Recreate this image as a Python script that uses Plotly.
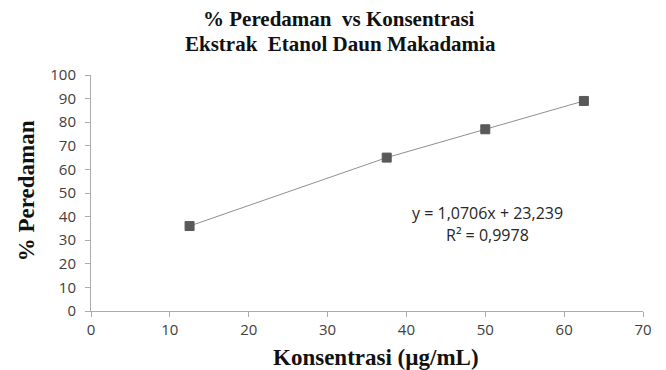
import plotly.graph_objects as go

konsentrasi = [12.5, 37.5, 50, 62.5]
peredaman = [36, 65, 77, 89]
x_ticks = [0, 10, 20, 30, 40, 50, 60, 70]
y_ticks = [0, 10, 20, 30, 40, 50, 60, 70, 80, 90, 100]
equation_line = "y = 1,0706x + 23,239"
r2_line = "R² = 0,9978"
title_lines = ["% Peredaman  vs Konsentrasi", "Ekstrak  Etanol Daun Makadamia"]
x_title = "Konsentrasi (µg/mL)"
y_title = "% Peredaman"

SERIF = "Liberation Serif, Times New Roman, serif"
SANS = "Open Sans, Noto Sans, sans-serif"

# plot area in pixels
L, R, T, B = 91, 643, 74.7, 310.7
W, H = 666, 370


def px(x):
    return (x - L) / (R - L)


def py(y):
    return (B - y) / (B - T)


fig = go.Figure()
fig.add_trace(go.Scatter(
    x=konsentrasi, y=peredaman, mode="lines+markers",
    line=dict(color="#8f8f8f", width=1),
    marker=dict(symbol="square", size=9, color="#595959",
                line=dict(color="#595959", width=1)),
    showlegend=False,
))


def ann(text, x, y, font, angle=0):
    fig.add_annotation(text=text, xref="paper", yref="paper", x=px(x), y=py(y),
                       xanchor="center", yanchor="middle", showarrow=False,
                       textangle=angle, font=font)


eq_font = dict(family=SANS, size=16, color="#262626")
ann(equation_line, 487, 213, eq_font)
ann(r2_line, 487, 235, eq_font)

title_font = dict(family=SERIF, size=21, color="#111")
ann("<b>" + title_lines[0] + "</b>", 339, 19, title_font)
ann("<b>" + title_lines[1] + "</b>", 340, 44, title_font)

ann("<b>" + x_title + "</b>", 376, 357, dict(family=SERIF, size=23, color="#111"))
ann("<b>" + y_title + "</b>", 26, 191, dict(family=SERIF, size=23, color="#111"), angle=-90)

fig.update_layout(
    width=W, height=H,
    margin=dict(l=L, r=W - R, t=T, b=H - B),
    paper_bgcolor="white", plot_bgcolor="white",
    xaxis=dict(
        range=[0, 70], tickvals=x_ticks, showgrid=False, zeroline=False,
        showline=True, linecolor="#ababab", linewidth=1, automargin=False,
        ticks="outside", ticklen=5, tickcolor="#ababab", ticklabeloverflow="allow",
        tickfont=dict(family=SANS, size=15, color="#404040"),
    ),
    yaxis=dict(
        range=[0, 100], tickvals=y_ticks, showgrid=False, zeroline=False,
        showline=True, linecolor="#ababab", linewidth=1, automargin=False,
        ticks="outside", ticklen=5, tickcolor="#ababab", ticklabelstandoff=6,
        tickfont=dict(family=SANS, size=15, color="#404040"),
    ),
)

fig.write_html("out.html", config={"displayModeBar": False},
               post_script="document.body.style.margin='0';")
